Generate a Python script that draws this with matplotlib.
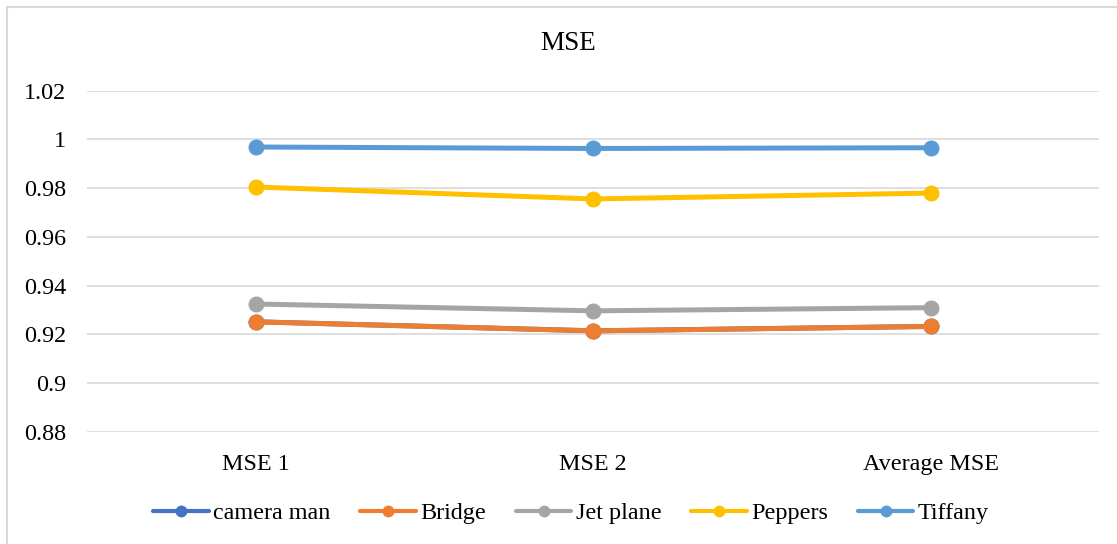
import matplotlib
matplotlib.use("Agg")
import matplotlib.pyplot as plt
from matplotlib.lines import Line2D

categories = ["MSE 1", "MSE 2", "Average MSE"]
series_names = ["camera man", "Bridge", "Jet plane", "Peppers", "Tiffany"]
camera_man = [0.9252, 0.9215, 0.9233]
bridge = [0.9252, 0.9215, 0.9233]
jet_plane = [0.9325, 0.9297, 0.9310]
peppers = [0.9805, 0.9756, 0.9780]
tiffany = [0.9969, 0.9963, 0.9966]
colors = ["#4472C4", "#ED7D31", "#A5A5A5", "#FFC000", "#5B9BD5"]
y_ticks = [0.88, 0.9, 0.92, 0.94, 0.96, 0.98, 1.0, 1.02]
y_tick_labels = ["0.88", "0.9", "0.92", "0.94", "0.96", "0.98", "1", "1.02"]

plt.rcParams["font.family"] = ["Liberation Serif", "DejaVu Serif"]
FS = 17.4

W, H = 1117, 544
fig = plt.figure(figsize=(W / 100, H / 100), dpi=100)
ax = fig.add_axes([87 / W, 1 - 432 / H, (1099.4 - 87) / W, (432 - 90.7) / H])

x = list(range(len(categories)))
for name, vals, c in zip(series_names, [camera_man, bridge, jet_plane, peppers, tiffany], colors):
    ax.plot(x, vals, color=c, lw=3.6, marker="o", markersize=10.5,
            solid_capstyle="round", label=name, zorder=3)

ax.set_xlim(-0.5, len(categories) - 0.5)
ax.set_ylim(0.88, 1.02)
ax.set_yticks(y_ticks)
ax.set_yticklabels(y_tick_labels)
ax.set_xticks(x)
ax.set_xticklabels(categories)
ax.grid(axis="y", color="#D9D9D9", lw=1.2, zorder=0)
ax.tick_params(axis="both", length=0, labelsize=FS, colors="black")
ax.tick_params(axis="y", pad=15)
ax.tick_params(axis="x", pad=16)
for s in ax.spines.values():
    s.set_visible(False)

fig.text(568 / W, 1 - 43 / H, "MSE", ha="center", va="center", fontsize=19.5)

handles = [Line2D([0], [0], color=c, lw=3.0, marker="o", markersize=7.5,
                  solid_capstyle="round")
           for c in colors]
fig.legend(handles, series_names, loc="center", bbox_to_anchor=(571 / W, 1 - 513 / H),
           ncol=5, frameon=False, fontsize=FS, handlelength=2.3, handletextpad=0.17,
           columnspacing=1.24, borderpad=0, borderaxespad=0)

# chart area outline (left and top edges)
fig.add_artist(Line2D([7 / W, 7 / W], [0, 1 - 7 / H], transform=fig.transFigure,
                      color="#D9D9D9", lw=1.5))
fig.add_artist(Line2D([7 / W, 1], [1 - 7 / H, 1 - 7 / H], transform=fig.transFigure,
                      color="#D9D9D9", lw=1.5))

fig.savefig("out.png", dpi=100, facecolor="white")
